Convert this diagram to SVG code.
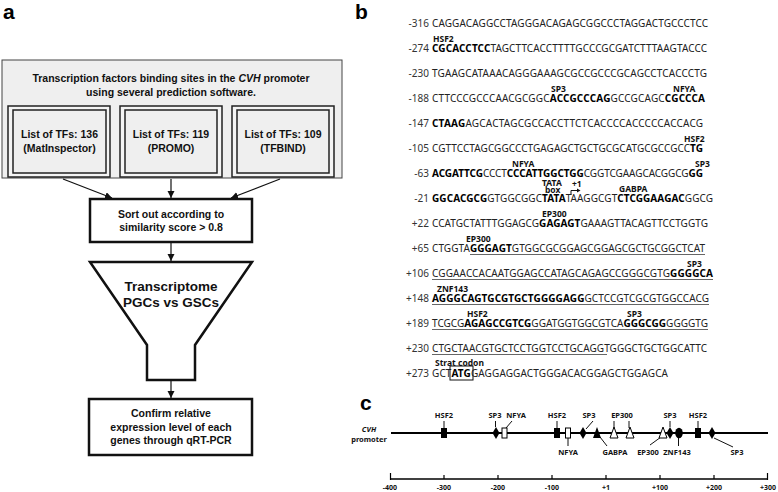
<svg xmlns="http://www.w3.org/2000/svg" width="778" height="492" viewBox="0 0 778 492">
<defs>
<marker id="ah" markerWidth="8" markerHeight="8" refX="7" refY="3.5" orient="auto" markerUnits="userSpaceOnUse"><path d="M0,0 L7,3.5 L0,7 z" fill="#111"/></marker>
</defs>
<style>
.pl{font-family:"Liberation Sans",Arial,sans-serif;font-weight:bold;font-size:21px;fill:#000}
.t{font-family:"Liberation Sans",Arial,sans-serif;font-weight:bold;font-size:10.5px;text-anchor:middle;fill:#111}
.tb{font-family:"Liberation Sans",Arial,sans-serif;font-weight:bold;font-size:13.5px;text-anchor:middle;fill:#111}
.seq{font-family:"Noto Sans",sans-serif;font-size:10px;fill:#222}
.b{font-weight:bold;fill:#000}
.num{font-family:"Noto Sans",sans-serif;font-size:10px;text-anchor:end;fill:#333}
.lab{font-family:"Noto Sans",sans-serif;font-weight:bold;font-size:8.5px;fill:#111}
.cl{font-family:"Noto Sans",sans-serif;font-weight:bold;font-size:7.5px;text-anchor:middle;fill:#111}
.ax{font-family:"Noto Sans",sans-serif;font-weight:bold;font-size:7px;text-anchor:middle;fill:#111}
.ul{stroke:#666;stroke-width:1}
.thin{stroke:#111;stroke-width:1;fill:none}
.box2{fill:#fff;stroke:#111;stroke-width:2.5}
.arr{stroke:#111;stroke-width:1.2;fill:none;marker-end:url(#ah)}
.blk{fill:#000}
.wht{fill:#fff;stroke:#000;stroke-width:1}
</style>
<rect width="778" height="492" fill="#fff"/>

<!-- Panel letters -->
<text class="pl" x="3" y="19">a</text>
<text class="pl" x="355" y="19">b</text>
<text class="pl" x="360" y="410">c</text>

<!-- Panel a -->
<g id="tfbs-box">
<rect x="2" y="60" width="340" height="118" fill="#efefef" stroke="#444" stroke-width="1"/>
<text class="t" x="171" y="82">Transcription factors binding sites in the <tspan font-style="italic">CVH</tspan> promoter</text>
<text class="t" x="171" y="96">using several prediction software.</text>
</g>
<g id="matinspector">
<rect x="8" y="106" width="102" height="71" fill="#f4f4f4" stroke="#222" stroke-width="1.5"/>
<rect x="13" y="110" width="93" height="63" fill="#efefef" stroke="#222" stroke-width="1.5"/>
<text class="t" x="59.5" y="138">List of TFs: 136</text>
<text class="t" x="59.5" y="152">(MatInspector)</text>
</g>
<g id="promo">
<rect x="120" y="106" width="102" height="71" fill="#f4f4f4" stroke="#222" stroke-width="1.5"/>
<rect x="125" y="110" width="92" height="63" fill="#efefef" stroke="#222" stroke-width="1.5"/>
<text class="t" x="171" y="138">List of TFs: 119</text>
<text class="t" x="171" y="152">(PROMO)</text>
</g>
<g id="tfbind">
<rect x="232" y="106" width="102" height="71" fill="#f4f4f4" stroke="#222" stroke-width="1.5"/>
<rect x="237" y="110" width="92" height="63" fill="#efefef" stroke="#222" stroke-width="1.5"/>
<text class="t" x="283" y="138">List of TFs: 109</text>
<text class="t" x="283" y="152">(TFBIND)</text>
</g>
<g id="sort">
<rect class="box2" x="90" y="199" width="162" height="43"/>
<text class="t" x="171" y="218">Sort out according to</text>
<text class="t" x="171" y="231">similarity score &gt; 0.8</text>
</g>
<g id="funnel">
<path class="box2" d="M90,262 H252 L195,345 V380 H147 V345 Z"/>
<text class="tb" x="171" y="291">Transcriptome</text>
<text class="tb" x="171" y="307">PGCs vs GSCs</text>
</g>
<g id="confirm">
<rect class="box2" x="89" y="399" width="163" height="56"/>
<text class="t" x="171" y="417">Confirm relative</text>
<text class="t" x="171" y="431">expression level of each</text>
<text class="t" x="171" y="444">genes through qRT-PCR</text>
</g>
<g id="connectors">
<line class="arr" x1="63" y1="179" x2="112" y2="198"/>
<line class="arr" x1="171" y1="179" x2="171" y2="198"/>
<line class="arr" x1="280" y1="179" x2="231" y2="198"/>
<line class="arr" x1="171" y1="243" x2="171" y2="261"/>
<line class="arr" x1="171" y1="381" x2="171" y2="398"/>
</g>

<!-- Panel b -->
<g id="sequence">
<text class="num" x="429" y="27">-316</text>
<text class="seq" x="432" y="27" textLength="276">CAGGACAGGCCTAGGGACAGAGCGGCCCTAGGACTGCCCTCC</text>

<text class="lab" x="433" y="42">HSF2</text>
<text class="num" x="429" y="52">-274</text>
<text class="seq" x="432" y="52" textLength="275"><tspan class="b">CGCACCTCC</tspan>TAGCTTCACCTTTTGCCCGCGATCTTTAAGTACCC</text>

<text class="num" x="429" y="77">-230</text>
<text class="seq" x="432" y="77" textLength="275">TGAAGCATAAACAGGGAAAGCGCCGCCCGCAGCCTCACCCTG</text>

<text class="lab" x="551" y="92">SP3</text>
<text class="lab" x="673" y="92">NFYA</text>
<text class="num" x="429" y="102">-188</text>
<text class="seq" x="432" y="102" textLength="273">CTTCCCGCCCAACGCGGC<tspan class="b">ACCGCCCAG</tspan>GCCGCAGC<tspan class="b">CGCCCA</tspan></text>

<text class="num" x="429" y="127">-147</text>
<text class="seq" x="432" y="127" textLength="271"><tspan class="b">CTAAG</tspan>AGCACTAGCGCCACCTTCTCACCCCACCCCCACCACG</text>

<text class="lab" x="684" y="142">HSF2</text>
<text class="num" x="429" y="152">-105</text>
<text class="seq" x="432" y="152" textLength="271">CGTTCCTAGCGGCCCTGAGAGCTGCTGCGCATGCGCCGCC<tspan class="b">TG</tspan></text>

<text class="lab" x="512" y="167">NFYA</text>
<text class="lab" x="695" y="167">SP3</text>
<text class="num" x="429" y="177">-63</text>
<text class="seq" x="432" y="177" textLength="271"><tspan class="b">ACGATTCG</tspan>CCCT<tspan class="b">CCCATTGGCTGG</tspan>CGGTCGAAGCACGGCG<tspan class="b">GG</tspan></text>

<text class="lab" x="542" y="186" font-size="8">TATA</text>
<text class="lab" x="545" y="192.5" font-size="7.5">box</text>
<text class="lab" x="572" y="187" font-size="7.5">+1</text>
<path d="M571,195 V190.5 H577" class="thin"/>
<path d="M577,188.5 L580.5,190.5 L577,192.5 Z" fill="#111"/>
<text class="lab" x="619" y="192">GABPA</text>
<text class="num" x="429" y="202">-21</text>
<text class="seq" x="432" y="202" textLength="281"><tspan class="b">GGCACGCG</tspan>GTGGCGGC<tspan class="b">TATA</tspan>TAAGGCGT<tspan class="b">CTCGGAAGAC</tspan>GGCG</text>

<text class="lab" x="542" y="217">EP300</text>
<text class="num" x="429" y="227">+22</text>
<text class="seq" x="432" y="227" textLength="276">CCATGCTATTTGGAGCG<tspan class="b">GAGAGT</tspan>GAAAGTTACAGTTCCTGGTG</text>

<text class="lab" x="466" y="242">EP300</text>
<text class="num" x="429" y="252">+65</text>
<text class="seq" x="432" y="252" textLength="273">CTGGTA<tspan class="b">GGGAGT</tspan>GTGGCGCGGAGCGGAGCGCTGCGGCTCAT</text>

<text class="lab" x="687" y="267">SP3</text>
<text class="num" x="429" y="277">+106</text>
<text class="seq" x="432" y="277" textLength="281">CGGAACCACAATGGAGCCATAGCAGAGCCGGGCGTG<tspan class="b">GGGGCA</tspan></text>

<text class="lab" x="437" y="292">ZNF143</text>
<text class="num" x="429" y="302">+148</text>
<text class="seq" x="432" y="302" textLength="277"><tspan class="b">AGGGCAGTGCGTGCTGGGGAGG</tspan>GCTCCGTCGCGTGGCCACG</text>

<text class="lab" x="467" y="317">HSF2</text>
<text class="lab" x="627" y="317">SP3</text>
<text class="num" x="429" y="327">+189</text>
<text class="seq" x="432" y="327" textLength="276">TCGCG<tspan class="b">AGAGCCGTCG</tspan>GGATGGTGGCGTCA<tspan class="b">GGGCGG</tspan>GGGGTG</text>

<text class="num" x="429" y="352">+230</text>
<text class="seq" x="432" y="352" textLength="275">CTGCTAACGTGCTCCTGGTCCTGCAGGTGGGCTGCTGGCATTC</text>

<text class="lab" x="435" y="366" font-size="9">Strat codon</text>
<text class="num" x="429" y="377">+273</text>
<text class="seq" x="432" y="377" textLength="236">GCT<tspan class="b">ATG</tspan>GAGGAGGACTGGGACACGGAGCTGGAGCA</text>
<rect x="450" y="366" width="23" height="14" class="thin"/>

<line class="ul" x1="470" y1="254.5" x2="705" y2="254.5"/>
<line class="ul" x1="432" y1="279.5" x2="713" y2="279.5"/>
<line class="ul" x1="432" y1="304.5" x2="709" y2="304.5"/>
<line class="ul" x1="432" y1="329.5" x2="708" y2="329.5"/>
<line class="ul" x1="432" y1="354.5" x2="607" y2="354.5"/>
</g>

<!-- Panel c -->
<g id="promoter-map">
<text class="cl" x="369" y="432" font-size="8" font-style="italic">CVH</text>
<text class="cl" x="369" y="442" font-size="8">promoter</text>
<line x1="391" y1="433" x2="768" y2="433" stroke="#000" stroke-width="2"/>

<g id="site-labels">
<text class="cl" x="444" y="418">HSF2</text>
<text class="cl" x="495" y="418">SP3</text>
<text class="cl" x="516" y="418">NFYA</text>
<text class="cl" x="557" y="418">HSF2</text>
<text class="cl" x="589" y="418">SP3</text>
<text class="cl" x="622" y="418">EP300</text>
<text class="cl" x="670" y="418">SP3</text>
<text class="cl" x="698" y="418">HSF2</text>
<text class="cl" x="568" y="455">NFYA</text>
<text class="cl" x="615" y="455">GABPA</text>
<text class="cl" x="648" y="455">EP300</text>
<text class="cl" x="677" y="455">ZNF143</text>
<text class="cl" x="737" y="455">SP3</text>
</g>
<g id="site-ticks" class="thin">
<line x1="444" y1="421" x2="444" y2="428"/>
<line x1="495.5" y1="421" x2="495.5" y2="427"/>
<line x1="506" y1="428" x2="512" y2="421"/>
<line x1="557" y1="421" x2="557" y2="428"/>
<line x1="586" y1="429" x2="593" y2="421"/>
<line x1="614" y1="421" x2="614" y2="428"/>
<line x1="629" y1="421" x2="629" y2="428"/>
<line x1="670" y1="421" x2="670" y2="427"/>
<line x1="698" y1="421" x2="698" y2="428"/>
<line x1="568" y1="438" x2="568" y2="446"/>
<line x1="600" y1="437" x2="607" y2="446"/>
<line x1="661" y1="437" x2="650" y2="445"/>
<line x1="678.5" y1="438" x2="678.5" y2="446"/>
<line x1="714" y1="438" x2="733" y2="447"/>
</g>
<g id="site-symbols">
<rect class="blk" x="441" y="428" width="6" height="10"/>
<polygon class="blk" points="496,427 499.5,433 496,439 492.5,433"/>
<rect class="wht" x="502" y="428" width="5" height="10"/>
<rect class="blk" x="554" y="428" width="6" height="10"/>
<rect class="wht" x="565.5" y="428" width="5" height="10"/>
<polygon class="blk" points="583,427 586.5,433 583,439 579.5,433"/>
<polygon class="blk" points="597,427 601,438 593,438"/>
<polygon class="wht" points="614,427 618,438 610,438"/>
<polygon class="wht" points="630,427 634,438 626,438"/>
<polygon class="wht" points="663,427 667,438 659,438"/>
<polygon class="blk" points="670,427 673.5,433 670,439 666.5,433"/>
<ellipse class="blk" cx="679" cy="433" rx="3.8" ry="5.2"/>
<rect class="blk" x="695" y="428" width="6" height="10"/>
<polygon class="blk" points="712,427 715.5,433 712,439 708.5,433"/>
</g>
</g>

<g id="axis">
<line x1="390" y1="479" x2="768" y2="479" stroke="#000" stroke-width="1.5"/>
<g stroke="#000" stroke-width="1.2">
<line x1="390.5" y1="473" x2="390.5" y2="480"/>
<line x1="444" y1="475" x2="444" y2="479"/>
<line x1="498" y1="475" x2="498" y2="479"/>
<line x1="552" y1="475" x2="552" y2="479"/>
<line x1="606" y1="475" x2="606" y2="479"/>
<line x1="660" y1="475" x2="660" y2="479"/>
<line x1="714" y1="475" x2="714" y2="479"/>
<line x1="767.5" y1="473" x2="767.5" y2="480"/>
</g>
<text class="ax" x="390" y="490">-400</text>
<text class="ax" x="444" y="490">-300</text>
<text class="ax" x="498" y="490">-200</text>
<text class="ax" x="552" y="490">-100</text>
<text class="ax" x="606" y="490">+1</text>
<text class="ax" x="660" y="490">+100</text>
<text class="ax" x="714" y="490">+200</text>
<text class="ax" x="768" y="490">+300</text>
</g>
</svg>
